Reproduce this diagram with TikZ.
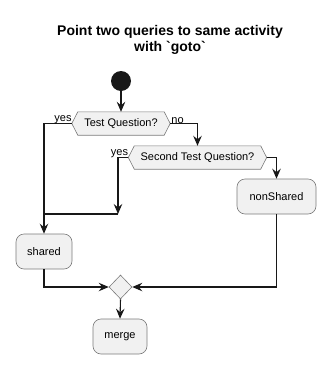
\documentclass[tikz,border=0pt]{standalone}
\usepackage{fontspec}
\setmainfont{Liberation Sans}
\usetikzlibrary{arrows.meta,calc,shapes.geometric}
\definecolor{boxfill}{HTML}{F1F1F1}
\definecolor{boxline}{HTML}{7A7A7A}
\definecolor{ink}{HTML}{181818}
\begin{document}
\begin{tikzpicture}[x=1pt,y=-1pt,
  act/.style={draw=boxline,fill=boxfill,rounded corners=8pt,line width=0.6pt,
    minimum height=35pt,inner sep=0pt,font=\fontsize{11}{13}\selectfont},
  hexlabel/.style={draw=none,minimum height=23pt,inner sep=0pt,font=\fontsize{11}{13}\selectfont},
  hexbox/.style={draw=boxline,fill=boxfill,line width=0.6pt},
  conn/.style={draw=ink,line width=1.1pt},
  arr/.style={conn,-{Stealth[length=10pt,width=8.5pt,inset=3.5pt]}},
  lbl/.style={font=\fontsize{11}{13}\selectfont,inner sep=1pt}]
\useasboundingbox (0,0) rectangle (335,373);
% title
\node[font=\bfseries\fontsize{14}{16}\selectfont,align=center] (title) at (170,40) {Point two queries to same activity\\with \textasciigrave goto\textasciigrave};
% start
\node[circle,fill=ink,minimum size=20pt,inner sep=0pt] (start) at (121,81) {};
% decisions (label nodes; hexagon outlines drawn from their anchors)
\node[hexlabel,minimum width=86pt] (d1) at (121,123.5) {};
\coordinate (d1l) at ($(d1.west)+(-6,0)$);
\coordinate (d1r) at ($(d1.east)+(6,0)$);
\node[hexlabel,minimum width=126pt] (d2) at (197.5,157.5) {};
\coordinate (d2l) at ($(d2.west)+(-6,0)$);
\coordinate (d2r) at ($(d2.east)+(6,0)$);
\path[hexbox] (d1.north west) -- (d1.north east) -- (d1r) -- (d1.south east) -- (d1.south west) -- (d1l) -- cycle;
\path[hexbox] (d2.north west) -- (d2.north east) -- (d2r) -- (d2.south east) -- (d2.south west) -- (d2l) -- cycle;
\node[hexlabel,minimum width=86pt] (d1t) at (d1) {Test Question?};
\node[hexlabel,minimum width=126pt] (d2t) at (d2) {Second Test Question?};
% activities
\node[act,minimum width=79pt] (nonShared) at (276.5,196.5) {nonShared};
\node[act,minimum width=56pt] (shared) at (44,251.5) {shared};
\node[diamond,draw=boxline,fill=boxfill,line width=0.6pt,minimum width=23pt,minimum height=24pt,inner sep=0pt] (mergeD) at (120.5,287) {};
\node[act,minimum width=54pt] (merge) at (120,336.5) {merge};
% goto junction
\coordinate (j) at (118,214);
% connectors
\draw[arr] (start.south) -- (d1.north);
\draw[arr] (d1l) -- (shared.north |- d1l) -- (shared.north);
\node[lbl,anchor=south east] (yes1) at ($(d1l)+(1,1)$) {yes};
\draw[arr] (d1r) -- (d2.north |- d1r) -- (d2.north);
\node[lbl,anchor=south west] (no1) at ($(d1r)+(0,1)$) {no};
\draw[arr] (d2l) -- (j |- d2l) -- (j);
\node[lbl,anchor=south east] (yes2) at ($(d2l)+(1,1)$) {yes};
\draw[conn] (j) -- (shared.north |- j);
\draw[arr] (d2r) -- (nonShared.north |- d2r) -- (nonShared.north);
\draw[arr] (nonShared.south) -- (nonShared.south |- mergeD.east) -- (mergeD.east);
\draw[arr] (shared.south) -- (shared.south |- mergeD.west) -- (mergeD.west);
\draw[arr] (mergeD.south) -- (merge.north);
\end{tikzpicture}
\end{document}
